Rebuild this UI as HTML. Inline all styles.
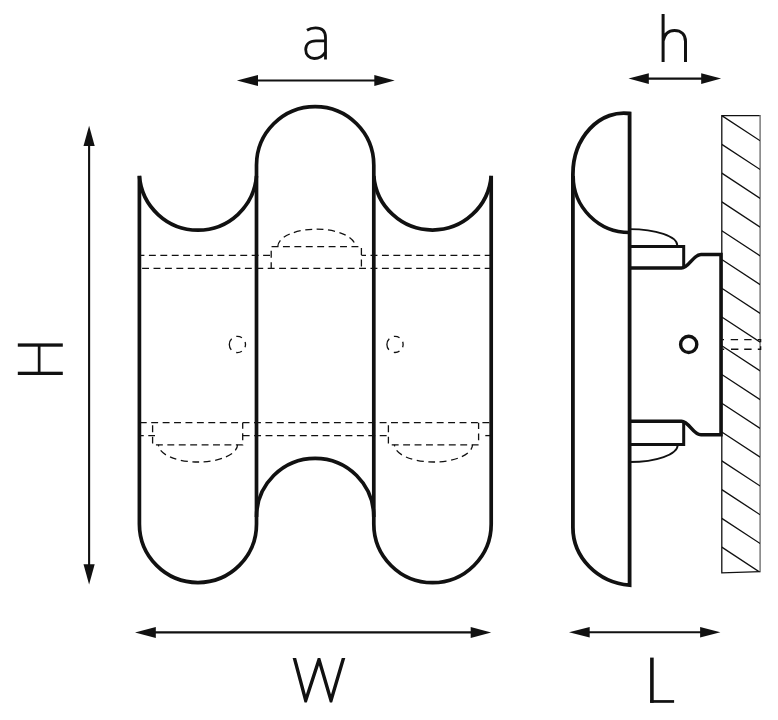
<!DOCTYPE html>
<html>
<head>
<meta charset="utf-8">
<style>
html,body{margin:0;padding:0;background:#fff;}
body{width:778px;height:720px;overflow:hidden;font-family:"Liberation Sans",sans-serif;}
svg{display:block;}
</style>
</head>
<body>
<svg width="778" height="720" viewBox="0 0 778 720">
<rect x="0" y="0" width="778" height="720" fill="#fff"/>
<defs>
<clipPath id="wallclip"><polygon points="721.8,115.6 760,115.6 760,571.7 721.8,572.9"/></clipPath>
</defs>

<!-- ===== FRONT VIEW: solid outline ===== -->
<g fill="none" stroke="#111" stroke-width="3.7" stroke-linejoin="miter">
  <path d="M139.4 175.8 L139.4 524 A58.55 58.55 0 0 0 256.5 524 L256.5 165.2 A58.65 58.65 0 0 1 373.8 165.2 L373.8 524 A58.7 58.7 0 0 0 491.2 524 L491.2 175.8"/>
  <!-- scallops -->
  <path d="M139.4 176 A58.73 58.73 0 0 0 256.5 176"/>
  <path d="M373.8 176 A58.9 58.9 0 0 0 491.2 176"/>
  <!-- middle bottom arch -->
  <path d="M256.5 517 A58.65 58.65 0 0 1 373.8 517"/>
</g>

<!-- ===== FRONT VIEW: dashed ===== -->
<g fill="none" stroke="#111" stroke-width="1.3" stroke-dasharray="6.9 4.52">
  <line x1="139.5" y1="255.4" x2="271.2" y2="255.4" stroke-dashoffset="2"/>
  <line x1="361.4" y1="255.4" x2="491" y2="255.4" stroke-dashoffset="2.3"/>
  <line x1="142.1" y1="268.4" x2="491" y2="268.4"/>
  <!-- middle box -->
  <path d="M271.2 268.4 L271.2 246.6 L361.4 246.6 L361.4 268.4" stroke-dashoffset="0.7"/>
  <path d="M277.8 246.6 A38.75 17.4 0 0 1 355.3 246.6"/>

  <line x1="139.8" y1="422.7" x2="491" y2="422.7"/>
  <line x1="139.5" y1="435.6" x2="155" y2="435.6" stroke-dashoffset="2.65"/>
  <line x1="242.7" y1="435.6" x2="388.4" y2="435.6"/>
  <line x1="485.3" y1="435.6" x2="491" y2="435.6"/>
  <!-- left box -->
  <path d="M152.6 422.7 L152.6 444.8 L242.7 444.8 L242.7 422.7" stroke-dashoffset="-2.6"/>
  <path d="M158.5 444.8 A39.5 17.2 0 0 0 237.5 444.8" stroke-dashoffset="5.25"/>
  <!-- right box -->
  <path d="M388.4 422.7 L388.4 444.8 L478.6 444.8 L478.6 422.7" stroke-dashoffset="-2.6"/>
  <path d="M394.5 444.8 A39 17.2 0 0 0 472.5 444.8" stroke-dashoffset="5.25"/>
  <!-- small circles -->
  <circle cx="237.4" cy="344.5" r="8.1" stroke-dasharray="5.8 5.09 5.94 5.66 12.09 5.16 5.94 5.23" stroke-dashoffset="2.97"/>
  <circle cx="395" cy="344.4" r="8.1" stroke-dasharray="5.8 5.09 5.94 5.66 12.09 5.16 5.94 5.23" stroke-dashoffset="2.97"/>
</g>

<!-- ===== SIDE VIEW ===== -->
<g fill="none" stroke="#111" stroke-width="3.5">
  <path d="M629.6 113.5 A50.9 61.3 0 0 0 572.9 174.4 L572.9 527.1 A62 58.2 0 0 0 629.6 585.2 Z" stroke-width="3.8"/>
  <path d="M573.2 176 A56.4 56.5 0 0 0 629.6 232.5"/>
  <!-- plate -->
  <path d="M629.6 268 L681.5 268 C689 268 693 254.5 701 254.5 L721 254.5 L721 434.8 L701 434.8 C693 434.8 689 421.2 681.5 421.2 L629.6 421.2"/>
</g>
<g fill="none" stroke="#111" stroke-width="3">
  <path d="M629.6 246.6 L683.7 246.6 L683.7 268"/>
  <path d="M683.7 421.2 L683.7 444.6 L629.6 444.6"/>
</g>
<g fill="none" stroke="#111" stroke-width="1.8">
  <path d="M629.6 229.2 A47.7 16.3 0 0 1 677.3 245.5"/>
  <path d="M677.7 445 A48 17 0 0 1 629.6 462"/>
</g>
<circle cx="688.7" cy="344.4" r="8.1" fill="none" stroke="#111" stroke-width="3.4"/>

<!-- wall -->
<g fill="none" stroke="#111" stroke-width="1.3">
  <polyline points="760.2,115.6 721.8,115.6 721.8,572.9 760.2,571.7"/>
  <line x1="760.1" y1="115" x2="760.1" y2="572.3" stroke="#707070" stroke-width="1.4"/>
  <g clip-path="url(#wallclip)">
    <path id="hatch" d="M721.8 115.6 l38.4 25.2 M721.8 144.37 l38.4 25.2 M721.8 173.14 l38.4 25.2 M721.8 201.91 l38.4 25.2 M721.8 230.68 l38.4 25.2 M721.8 259.45 l38.4 25.2 M721.8 288.22 l38.4 25.2 M721.8 316.99 l38.4 25.2 M721.8 345.76 l38.4 25.2 M721.8 374.53 l38.4 25.2 M721.8 403.3 l38.4 25.2 M721.8 432.07 l38.4 25.2 M721.8 460.84 l38.4 25.2 M721.8 489.61 l38.4 25.2 M721.8 518.38 l38.4 25.2 M721.8 547.15 l38.4 25.2"/>
  </g>
</g>
<g fill="none" stroke="#111" stroke-width="1.4">
  <path d="M722.5 339.6 H724 M730.7 339.6 H738.1 M744.2 339.6 H751.6 M757.8 339.6 H760.6 V342.2 M722.5 349.25 H724.2 M731 349.25 H738.4 M744.2 349.25 H751.6 M757.8 349.25 H760.6 V346.2"/>
</g>

<!-- ===== DIMENSION ARROWS ===== -->
<g stroke="#111" stroke-width="2.1" fill="none">
  <line x1="256" y1="80.5" x2="376" y2="80.5"/>
  <line x1="647" y1="78.6" x2="703" y2="78.6"/>
  <line x1="89.1" y1="144" x2="89.1" y2="566"/>
  <line x1="154" y1="632.4" x2="472" y2="632.4"/>
  <line x1="588" y1="632.3" x2="702" y2="632.3"/>
</g>
<g fill="#111" stroke="none">
  <polygon points="236.9,80.5 258,75 258,86"/>
  <polygon points="394.7,80.5 374.3,75 374.3,86"/>
  <polygon points="628.5,78.6 648.8,73.2 648.8,84"/>
  <polygon points="721.1,78.6 701.2,73.2 701.2,84"/>
  <polygon points="89.1,125.8 83.5,145.9 94.7,145.9"/>
  <polygon points="89.1,584.4 83.5,564.2 94.7,564.2"/>
  <polygon points="135,632.4 155.8,626.9 155.8,637.9"/>
  <polygon points="491.2,632.4 470.7,626.9 470.7,637.9"/>
  <polygon points="569,632.3 589.7,627 589.7,637.6"/>
  <polygon points="720.4,632.3 700.1,627 700.1,637.6"/>
</g>

<!-- ===== LETTERS ===== -->
<g fill="none" stroke="#111" stroke-width="2.8">
  <!-- a -->
  <path d="M307 30.2 C309.5 28.6 312.5 27.9 315.5 27.9 C321.5 27.9 325.5 31 325.5 37.5 L325.5 59.5"/>
  <path d="M325.5 40.8 L316 40.8 C309.5 40.8 305.7 44.5 305.7 49.5 C305.7 55 309.3 58.5 314.2 58.5 C319 58.5 323 56 325.5 52"/>
  <!-- h -->
  <path d="M663.1 14 L663.1 62 M663.1 41 C664.5 34 669 30.4 674.5 30.4 C681 30.4 685.5 34.5 685.5 41.5 L685.5 62" stroke-width="3"/>
</g>
<!-- H rotated -->
<g fill="#111">
  <rect x="17.8" y="343.4" width="45" height="3.3"/>
  <rect x="17.8" y="371.7" width="45" height="3.3"/>
  <rect x="37.8" y="345" width="2.7" height="28"/>
</g>
<!-- W -->
<clipPath id="wclip"><rect x="280" y="657.9" width="80" height="44.7"/></clipPath>
<polyline clip-path="url(#wclip)" points="292.8,652 305.7,700.5 319,659.6 331,700.5 345.3,652" fill="none" stroke="#111" stroke-width="3.4" stroke-linejoin="miter" stroke-miterlimit="10"/>
<!-- L -->
<g fill="#111">
  <rect x="650.1" y="657.6" width="3.6" height="45.2"/>
  <rect x="650.1" y="700.1" width="24" height="2.7"/>
</g>
</svg>
</body>
</html>
